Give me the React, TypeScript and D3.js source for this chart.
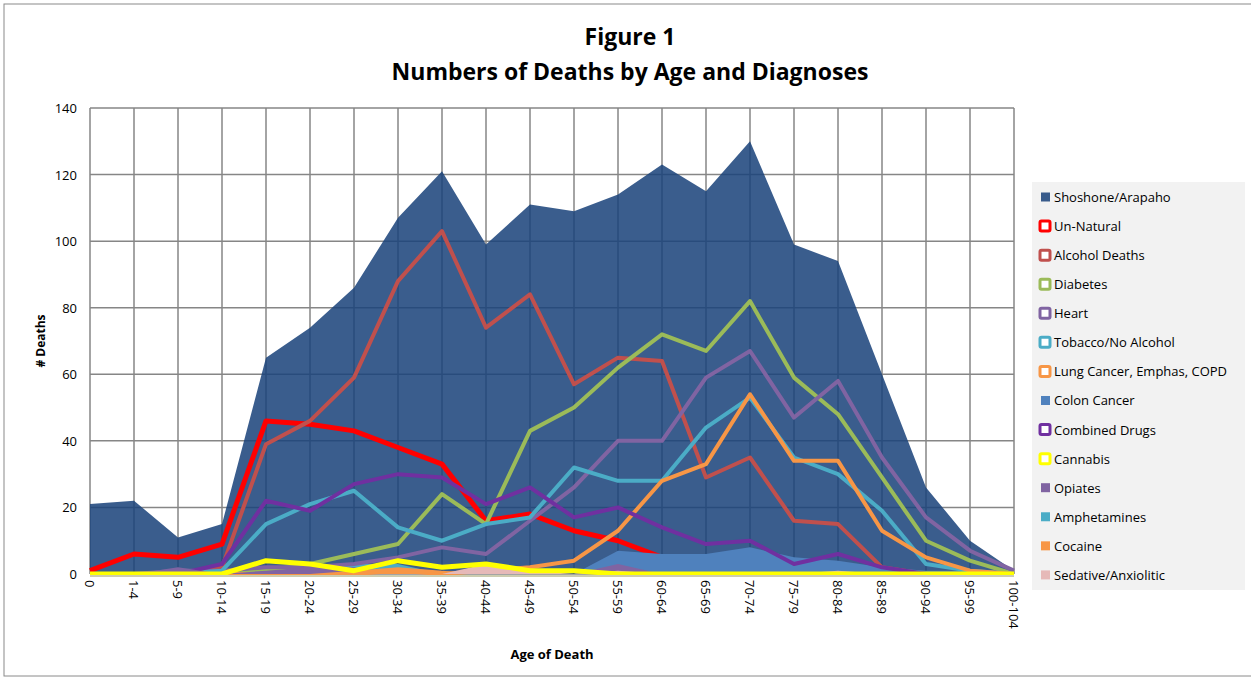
import React from "react";
import * as d3 from "d3";

const categories = ["0","1-4","5-9","10-14","15-19","20-24","25-29","30-34","35-39","40-44","45-49","50-54","55-59","60-64","65-69","70-74","75-79","80-84","85-89","90-94","95-99","100-104"];
const yTicks = [0, 20, 40, 60, 80, 100, 120, 140];

const shoshone = [21,22,11,15,65,74,86,107,121,99,111,109,114,123,115,130,99,94,60,26,10,1];
const unNatural = [1,6,5,9,46,45,43,38,33,16,18,13,10,5,4,4,4,3,1,0,0,0];
const alcohol = [0,0,0,2,39,46,59,88,103,74,84,57,65,64,29,35,16,15,2,0,0,0];
const diabetes = [0,0,0,0,1,3,6,9,24,15,43,50,62,72,67,82,59,48,29,10,4,0];
const heart = [0,0,1,1,2,2,3,5,8,6,16,26,40,40,59,67,47,58,35,17,7,1];
const tobacco = [0,0,0,1,15,21,25,14,10,15,17,32,28,28,44,53,35,30,19,3,1,0];
const lung = [0,0,0,0,0,0,0,1,0,1,2,4,13,28,33,54,34,34,13,5,1,0];
const colon = [0,0,0,0,0,0,0,0,0,0,0,0,7,6,6,8,5,4,2,1,1,1];
const combined = [0,0,0,3,22,19,27,30,29,21,26,17,20,14,9,10,3,6,2,0,0,0];
const cannabis = [0,0,0,0,4,3,1,4,2,3,1,1,0,0,0,0,0,0,0,0,0,0];
const opiates = [0,0,2,0,1,2,2,0,0,0,0,0,3,0,0,0,0,0,0,0,0,0];
const amphetamines = [0,0,0,0,0,0,3,3,0,0,0,0,0,0,0,0,0,0,0,0,0,0];
const cocaine = [0,0,0,0,0,0,1,2,1,0,0,0,0,0,0,0,0,0,0,0,0,0];
const sedative = [0,0,0,0,0,0,0,0,0,3,1,0,1,0,0,0,0,1,0,0,0,0];

type S = { name: string; values: number[]; color: string; kind: "area" | "line"; width?: number; opacity?: number };

const seriesShoshone: S = { name: "Shoshone/Arapaho", values: shoshone, color: "#1a427a", kind: "area", opacity: 0.86 };
const seriesUn: S = { name: "Un-Natural", values: unNatural, color: "#ff0000", kind: "line", width: 5 };
const seriesAlc: S = { name: "Alcohol Deaths", values: alcohol, color: "#c0504d", kind: "line", width: 4 };
const seriesDia: S = { name: "Diabetes", values: diabetes, color: "#9bbb59", kind: "line", width: 4 };
const seriesHeart: S = { name: "Heart", values: heart, color: "#8064a2", kind: "line", width: 4 };
const seriesTob: S = { name: "Tobacco/No Alcohol", values: tobacco, color: "#4bacc6", kind: "line", width: 4 };
const seriesLung: S = { name: "Lung Cancer, Emphas, COPD", values: lung, color: "#f79646", kind: "line", width: 4 };
const seriesColon: S = { name: "Colon Cancer", values: colon, color: "#4f81bd", kind: "area" };
const seriesComb: S = { name: "Combined Drugs", values: combined, color: "#7030a0", kind: "line", width: 4 };
const seriesCan: S = { name: "Cannabis", values: cannabis, color: "#ffff00", kind: "line", width: 5 };
const seriesOpi: S = { name: "Opiates", values: opiates, color: "#8064a2", kind: "area" };
const seriesAmp: S = { name: "Amphetamines", values: amphetamines, color: "#4bacc6", kind: "area" };
const seriesCoc: S = { name: "Cocaine", values: cocaine, color: "#f79646", kind: "area" };
const seriesSed: S = { name: "Sedative/Anxiolitic", values: sedative, color: "#e6b9b8", kind: "area" };

const legendOrder = [seriesShoshone, seriesUn, seriesAlc, seriesDia, seriesHeart, seriesTob, seriesLung, seriesColon, seriesComb, seriesCan, seriesOpi, seriesAmp, seriesCoc, seriesSed];
const drawOrder = [seriesShoshone, seriesUn, seriesAlc, seriesColon, seriesAmp, seriesDia, seriesHeart, seriesTob, seriesLung, seriesComb, seriesOpi, seriesCoc, seriesSed, seriesCan];

const W = 1251, H = 681;
const left = 90, right = 1014, top = 108, bottom = 574;
const FONT = "'Open Sans', 'Noto Sans', sans-serif";

export default function App() {
  const x = d3.scalePoint<string>().domain(categories).range([left, right]);
  const y = d3.scaleLinear().domain([0, 140]).range([bottom, top]);
  const lineGen = d3.line<number>().x((_, i) => x(categories[i])!).y((v) => y(v));
  const areaGen = d3.area<number>().x((_, i) => x(categories[i])!).y0(y(0)).y1((v) => y(v));

  return (
    <svg width={W} height={H} style={{ position: "absolute", left: 0, top: 0, background: "#fff" }} fontFamily={FONT}>
      <defs>
        <clipPath id="plotClip">
          <rect x={left - 4} y={top - 4} width={right - left + 8} height={bottom - top + 5} />
        </clipPath>
      </defs>
      <rect x={4} y={4} width={1262} height={672} fill="#fff" stroke="#8a8a8a" strokeWidth={1} />
      <text x={630} y={45} textAnchor="middle" fontSize={23} fontWeight="bold" fill="#000">Figure 1</text>
      <text x={630} y={80} textAnchor="middle" fontSize={23} fontWeight="bold" fill="#000">Numbers of Deaths by Age and Diagnoses</text>

      {yTicks.map((t) => (
        <line key={"gy" + t} x1={left} x2={right} y1={y(t)} y2={y(t)} stroke="#868686" strokeWidth={1.5} />
      ))}
      {categories.map((c) => (
        <line key={"gx" + c} x1={x(c)} x2={x(c)} y1={top} y2={bottom} stroke="#868686" strokeWidth={1.5} />
      ))}

      <g clipPath="url(#plotClip)">
        {drawOrder.map((s) =>
          s.kind === "area" ? (
            <path key={s.name} d={areaGen(s.values)!} fill={s.color} fillOpacity={s.opacity ?? 1} />
          ) : (
            <path key={s.name} d={lineGen(s.values)!} fill="none" stroke={s.color} strokeWidth={s.width} strokeLinejoin="round" />
          )
        )}
      </g>

      <line x1={left} x2={right} y1={bottom + 2} y2={bottom + 2} stroke="#9a9a60" strokeWidth={1} />

      {yTicks.map((t) => (
        <text key={"ty" + t} x={77} y={y(t)} textAnchor="end" dominantBaseline="central" fontSize={13} fill="#000">{t}</text>
      ))}
      {categories.map((c) => (
        <text key={"tx" + c} transform={`translate(${x(c)},${bottom + 6}) rotate(90)`} dominantBaseline="central" fontSize={13} fill="#000">{c}</text>
      ))}

      <text x={552} y={659} textAnchor="middle" fontSize={13} fontWeight="bold">Age of Death</text>
      <text transform={`translate(40,${(top + bottom) / 2}) rotate(-90)`} textAnchor="middle" dominantBaseline="central" fontSize={12} fontWeight="bold"># Deaths</text>

      <rect x={1032} y={182} width={213} height={408} fill="#f2f2f2" />
      {legendOrder.map((s, i) => {
        const cy = 197 + i * 29.07;
        return (
          <g key={"lg" + s.name}>
            {s.kind === "area" ? (
              <rect x={1041} y={cy - 4.5} width={9} height={9} fill={s.color} fillOpacity={s.opacity ? 0.86 : 1} />
            ) : (
              <rect x={1040} y={cy - 5} width={10} height={10} rx={1.5} fill="#fff" stroke={s.color} strokeWidth={3} />
            )}
            <text x={1054} y={cy} dominantBaseline="central" fontSize={13} fill="#000">{s.name}</text>
          </g>
        );
      })}
    </svg>
  );
}
